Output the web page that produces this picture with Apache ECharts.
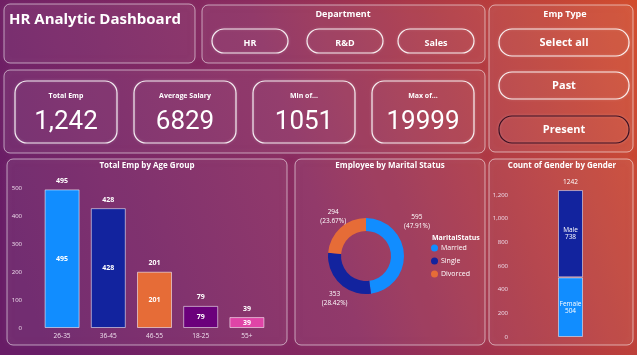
<!DOCTYPE html>
<html>
<head>
<meta charset="utf-8">
<script src="https://cdn.jsdelivr.net/npm/echarts@6/dist/echarts.min.js"></script>
<style>
html,body{margin:0;padding:0;width:637px;height:355px;overflow:hidden;}
#c{width:637px;height:355px;}
</style>
</head>
<body>
<div id="c"></div>
<script>
// ---- data ----
const ageGroups = ['26-35', '36-45', '46-55', '18-25', '55+'];
const ageCounts = [495, 428, 201, 79, 39];
const maritalStatus = ['Married', 'Single', 'Divorced'];
const maritalCounts = [595, 353, 294];
const genders = ['Female', 'Male'];
const genderCounts = [504, 738];
const kpiLabels = ['Total Emp', 'Average Salary', 'Min of...', 'Max of...'];
const kpiValues = ['1,242', '6829', '1051', '19999'];
const departments = ['HR', 'R&D', 'Sales'];
const empTypes = ['Select all', 'Past', 'Present'];

// ---- styles ----
const ageColors = ['#118DFF', '#12239E', '#E66C37', '#6B007B', '#E044A7'];
const maritalColors = ['#118DFF', '#12239E', '#E66C37'];
const genderColors = ['#118DFF', '#12239E'];
const pieLabelShift = [[-2, -31], [8, 11], [6, -7]];
const FONT = '"Open Sans", "Noto Sans", sans-serif';
const NUMFONT = 'Roboto, sans-serif';

const chart = echarts.init(document.getElementById('c'), null, {renderer: 'canvas'});

const graphics = [];
function panel(x, y, w, h) {
  graphics.push({type: 'rect', z: -5, shape: {x: x, y: y, width: w, height: h, r: 6},
    style: {fill: 'rgba(255,255,255,0.06)', stroke: 'rgba(255,255,255,0.55)', lineWidth: 1,
      shadowBlur: 6, shadowColor: 'rgba(255,255,255,0.35)'}});
}
function rbox(x, y, w, h, r, stroke) {
  graphics.push({type: 'rect', z: -4, shape: {x: x, y: y, width: w, height: h, r: r},
    style: {fill: 'rgba(255,255,255,0.02)', stroke: stroke, lineWidth: 1.2,
      shadowBlur: 3, shadowColor: 'rgba(255,255,255,0.3)'}});
}
function txt(t, x, y, font, align) {
  graphics.push({type: 'text', z: 10, style: {text: t, x: x, y: y, font: font, fill: '#ffffff',
    textAlign: align || 'center', textVerticalAlign: 'middle'}});
}

// panels
panel(4, 4, 191, 59);
panel(202, 5, 283, 58);
panel(489, 5, 144, 147);
panel(4, 70, 481, 83);
panel(7, 159, 280, 186);
panel(295, 159, 190, 186);
panel(489, 159, 144, 186);

txt('HR Analytic Dashboard', 9, 20, 'bold 15px ' + FONT, 'left');

// department slicer
txt('Department', 343, 14, 'bold 9px ' + FONT);
const deptX = [212, 307, 398];
departments.forEach(function (d, i) {
  rbox(deptX[i], 29, 76, 24, 12, 'rgba(255,255,255,0.9)');
  txt(d, deptX[i] + 38, 43, 'bold 9px ' + FONT);
});

// emp type slicer
txt('Emp Type', 565, 14, 'bold 9px ' + FONT);
const empY = [29, 72, 116];
empTypes.forEach(function (e, i) {
  rbox(499, empY[i], 130, 27, 13, i === 2 ? '#3a0f22' : 'rgba(255,255,255,0.9)');
  txt(e, 564, empY[i] + 14, 'bold 11px ' + FONT);
});

// KPI cards
const kpiX = [15, 134, 253, 372];
kpiLabels.forEach(function (l, i) {
  rbox(kpiX[i], 81, 102, 62, 12, 'rgba(255,255,255,0.9)');
  txt(l, kpiX[i] + 51, 96, 'bold 7px ' + FONT);
  txt(kpiValues[i], kpiX[i] + 51, 122, '26px ' + NUMFONT);
});

// chart titles
txt('Total Emp by Age Group', 147, 166, 'bold 8px ' + FONT);
txt('Employee by Marital Status', 390, 166, 'bold 8px ' + FONT);
txt('Count of Gender by Gender', 562, 166, 'bold 8px ' + FONT);
txt('MaritalStatus', 432, 238, 'bold 7px ' + FONT, 'left');

const axisLabelStyle = {color: '#f0e0ee', fontSize: 6, fontFamily: FONT};
const genderTotal = genderCounts.reduce(function (a, b) { return a + b; }, 0);

const option = {
  animation: false,
  backgroundColor: {
    type: 'linear', x: 0, y: 0.6, x2: 1, y2: 0,
    colorStops: [
      {offset: 0, color: '#681c66'},
      {offset: 0.45, color: '#8a2a5e'},
      {offset: 0.75, color: '#b33a40'},
      {offset: 1, color: '#d24c2c'}
    ]
  },
  graphic: {elements: graphics},
  grid: [
    {left: 39, right: 367, top: 188, bottom: 27},
    {left: 520, right: 16, top: 183.2, bottom: 18}
  ],
  xAxis: [
    {gridIndex: 0, type: 'category', data: ageGroups,
      axisLine: {show: false}, axisTick: {show: false},
      axisLabel: Object.assign({margin: 5}, axisLabelStyle, {fontSize: 6.5})},
    {gridIndex: 1, type: 'category', data: ['Gender'],
      axisLine: {show: false}, axisTick: {show: false}, axisLabel: {show: false}}
  ],
  yAxis: [
    {gridIndex: 0, type: 'value', min: 0, max: 500, interval: 100,
      splitLine: {show: false}, axisLine: {show: false}, axisTick: {show: false},
      axisLabel: Object.assign({margin: 17}, axisLabelStyle)},
    {gridIndex: 1, type: 'value', min: 0, max: 1300, interval: 200,
      splitLine: {show: false}, axisLine: {show: false}, axisTick: {show: false},
      axisLabel: Object.assign({margin: 12, formatter: function (v) {
        return v > 1200 ? '' : v.toLocaleString('en-US');
      }}, axisLabelStyle)}
  ],
  legend: {
    data: maritalStatus, orient: 'vertical', left: 431, top: 244.5, padding: 0,
    icon: 'circle', itemWidth: 7, itemHeight: 7, itemGap: 6,
    textStyle: {color: '#ffffff', fontSize: 7, fontFamily: FONT, padding: [0, 0, 0, -2]}
  },
  series: [
    {
      type: 'bar', xAxisIndex: 0, yAxisIndex: 0, barWidth: 35,
      data: ageCounts.map(function (v, i) {
        return {value: v, itemStyle: {color: ageColors[i]}};
      }),
      itemStyle: {borderColor: 'rgba(255,255,255,0.55)', borderWidth: 1},
      label: {show: true, position: 'inside', color: '#fff', fontSize: 7, fontWeight: 'bold', fontFamily: FONT}
    },
    {
      type: 'bar', xAxisIndex: 0, yAxisIndex: 0, barWidth: 35, barGap: '-100%',
      data: ageCounts, itemStyle: {color: 'rgba(0,0,0,0)'}, silent: true,
      label: {show: true, position: 'top', distance: 5, color: '#fff', fontSize: 7, fontWeight: 'bold', fontFamily: FONT}
    },
    {
      type: 'pie', center: [366, 256], radius: [25, 38],
      data: maritalStatus.map(function (n, i) {
        return {name: n, value: maritalCounts[i], itemStyle: {color: maritalColors[i]}};
      }),
      label: {show: true, position: 'outside', formatter: '{c}\n({d}%)', color: '#fff',
        fontSize: 6.5, fontFamily: FONT, lineHeight: 9, align: 'center'},
      labelLine: {show: false, length: 6, length2: 4},
      labelLayout: function (p) {
        const s = pieLabelShift[p.dataIndex];
        return {dx: s[0], dy: s[1], align: 'center'};
      }
    },
    {
      type: 'bar', xAxisIndex: 1, yAxisIndex: 1, stack: 'g', barWidth: 25, name: genders[0],
      data: [genderCounts[0]],
      itemStyle: {color: genderColors[0], borderColor: 'rgba(255,255,255,0.5)', borderWidth: 1},
      label: {show: true, position: 'inside', formatter: genders[0] + '\n{c}', color: '#fff', fontSize: 6.5, fontFamily: FONT}
    },
    {
      type: 'bar', xAxisIndex: 1, yAxisIndex: 1, stack: 'g', barWidth: 25, name: genders[1],
      data: [genderCounts[1]],
      itemStyle: {color: genderColors[1], borderColor: 'rgba(255,255,255,0.5)', borderWidth: 1},
      label: {show: true, position: 'inside', formatter: genders[1] + '\n{c}', color: '#fff', fontSize: 6.5, fontFamily: FONT}
    },
    {
      type: 'bar', xAxisIndex: 1, yAxisIndex: 1, stack: 'g', barWidth: 25,
      data: [0], itemStyle: {color: 'rgba(0,0,0,0)'}, silent: true,
      label: {show: true, position: 'top', distance: 4, formatter: String(genderTotal), color: '#fff', fontSize: 6.5, fontFamily: FONT}
    }
  ]
};
chart.setOption(option);
</script>
</body>
</html>
